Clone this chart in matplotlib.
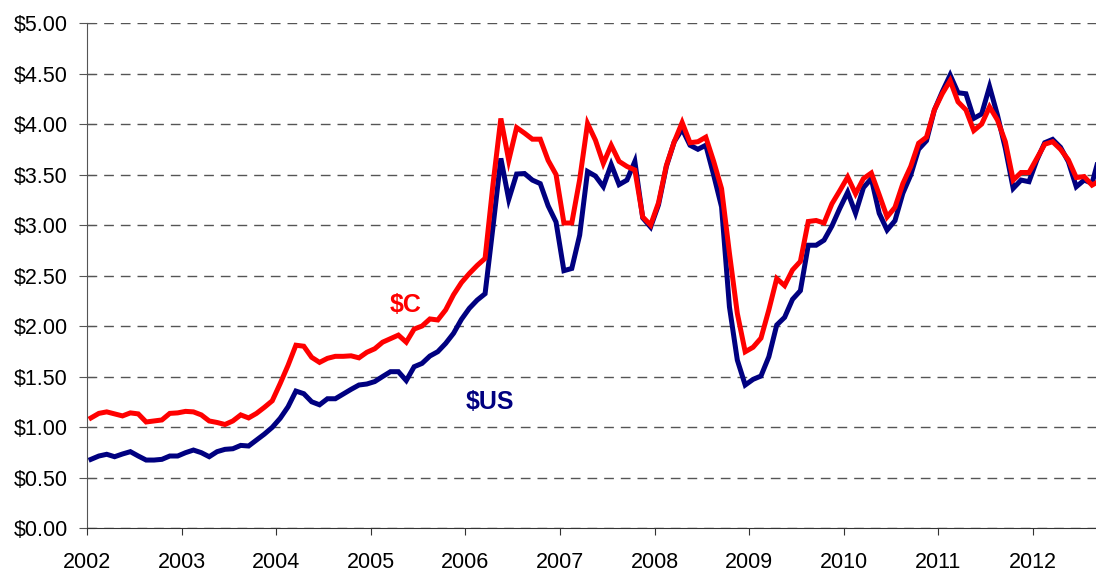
#!/usr/bin/env python3
"""
Precio mensual (2002-2012) en dolares canadienses y estadounidenses.
Guarda la figura en out.png (1096x576).
"""
import numpy as np
import matplotlib.pyplot as plt
from matplotlib.ticker import FuncFormatter

# Valores mensuales, desde enero 2002
precio_cad = [
    1.09, 1.135, 1.15, 1.13, 1.11, 1.14, 1.13, 1.05, 1.06, 1.07, 1.135, 1.14,
    1.155, 1.15, 1.12, 1.06, 1.045, 1.025, 1.06, 1.12, 1.09, 1.135, 1.195, 1.26,
    1.43, 1.61, 1.81, 1.80, 1.69, 1.64, 1.68, 1.70, 1.70, 1.705, 1.685, 1.74,
    1.775, 1.84, 1.875, 1.91, 1.84, 1.97, 2.00, 2.07, 2.06, 2.16, 2.31, 2.43,
    2.52, 2.60, 2.67, 3.40, 4.055, 3.64, 3.965, 3.91, 3.85, 3.85, 3.64, 3.50,
    3.02, 3.02, 3.45, 4.005, 3.84, 3.61, 3.79, 3.63, 3.58, 3.545, 3.08, 3.00,
    3.22, 3.59, 3.825, 4.015, 3.815, 3.825, 3.87, 3.63, 3.36, 2.72, 2.125, 1.745,
    1.79, 1.88, 2.16, 2.47, 2.40, 2.555, 2.64, 3.035, 3.045, 3.02, 3.21, 3.34,
    3.475, 3.31, 3.46, 3.515, 3.30, 3.08, 3.175, 3.41, 3.58, 3.81, 3.87, 4.14,
    4.30, 4.43, 4.22, 4.14, 3.935, 4.00, 4.17, 4.04, 3.825, 3.445, 3.52, 3.52,
    3.66, 3.80, 3.825, 3.75, 3.645, 3.47, 3.48, 3.395, 3.44,
]
precio_usd = [
    0.68, 0.713, 0.73, 0.706, 0.733, 0.756, 0.713, 0.673, 0.673, 0.68, 0.713, 0.713,
    0.746, 0.772, 0.746, 0.706, 0.756, 0.779, 0.785, 0.818, 0.812, 0.871, 0.93, 0.997,
    1.086, 1.20, 1.356, 1.33, 1.25, 1.22, 1.28, 1.28, 1.327, 1.373, 1.416, 1.426,
    1.45, 1.50, 1.548, 1.548, 1.46, 1.597, 1.63, 1.703, 1.746, 1.828, 1.928, 2.066,
    2.175, 2.257, 2.32, 2.98, 3.66, 3.254, 3.505, 3.51, 3.445, 3.41, 3.19, 3.03,
    2.548, 2.57, 2.90, 3.53, 3.485, 3.38, 3.60, 3.40, 3.445, 3.63, 3.07, 2.98,
    3.20, 3.58, 3.825, 3.95, 3.79, 3.75, 3.79, 3.495, 3.18, 2.19, 1.663, 1.416,
    1.472, 1.505, 1.696, 2.01, 2.086, 2.264, 2.35, 2.80, 2.80, 2.85, 2.99, 3.165,
    3.325, 3.116, 3.37, 3.46, 3.116, 2.95, 3.043, 3.314, 3.495, 3.75, 3.835, 4.139,
    4.32, 4.485, 4.31, 4.30, 4.056, 4.10, 4.37, 4.089, 3.76, 3.363, 3.445, 3.429,
    3.643, 3.815, 3.848, 3.77, 3.627, 3.379, 3.445, 3.413, 3.70,
]
anios = list(range(2002, 2013))
y_ticks = [0, 0.5, 1.0, 1.5, 2.0, 2.5, 3.0, 3.5, 4.0, 4.5, 5.0]

plt.rcParams["font.family"] = ["Liberation Sans", "DejaVu Sans"]


def main():
    # cada punto se dibuja a mitad de mes
    meses = 2002 + (np.arange(len(precio_cad)) + 0.5) / 12.0

    fig = plt.figure(figsize=(10.96, 5.76), dpi=100)
    ax = fig.add_axes([0.0794, 0.0833, 0.9206, 0.8767])

    ax.plot(meses, precio_usd, color="#000080", lw=3.6, solid_joinstyle="miter")
    ax.plot(meses, precio_cad, color="#ff0000", lw=3.6, solid_joinstyle="miter")

    ax.text(2005.37, 2.21, "$C", color="#ff0000", fontsize=18, fontweight="bold",
            ha="center", va="center")
    ax.text(2006.26, 1.25, "$US", color="#000080", fontsize=18, fontweight="bold",
            ha="center", va="center")

    ax.set_xlim(2002, 2012.667)
    ax.set_ylim(0, 5)
    ax.set_xticks(anios)
    ax.set_yticks(y_ticks)
    ax.yaxis.set_major_formatter(FuncFormatter(lambda v, _: f"${v:.2f}"))

    ax.grid(axis="y", color="#555555", ls=(0, (7, 5)), lw=1.0)
    ax.set_axisbelow(True)
    for s in ("top", "right"):
        ax.spines[s].set_visible(False)
    ax.spines["left"].set_color("#555555")
    ax.spines["bottom"].set_color("#333333")

    ax.tick_params(axis="y", direction="inout", length=11.5, color="#555555",
                   labelsize=15.5, pad=8)
    ax.tick_params(axis="x", direction="out", length=5, color="#333333",
                   labelsize=15.5, pad=12)

    fig.savefig("out.png", dpi=100)


if __name__ == "__main__":
    main()
